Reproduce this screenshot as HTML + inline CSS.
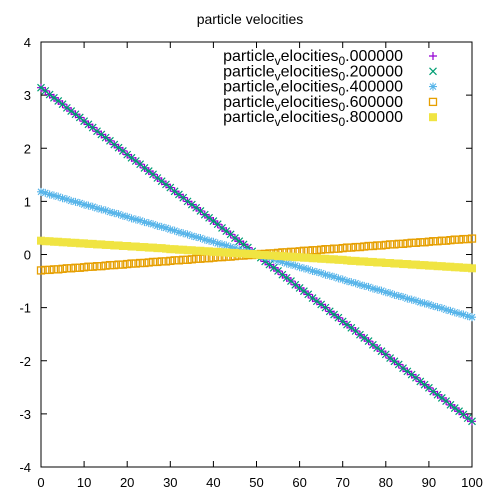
<!DOCTYPE html>
<html><head><meta charset="utf-8"><style>
body{margin:0;background:#fff}
svg{display:block;font-family:"Liberation Sans",sans-serif}
</style></head><body>
<svg id="chart" width="500" height="500" viewBox="0 0 500 500" xmlns="http://www.w3.org/2000/svg">
<rect width="500" height="500" fill="#fff"/>
<text x="250" y="24" text-anchor="middle" font-size="14">particle velocities</text>
<g id="axes"></g>
<g id="marks"></g>
<g id="legend"></g>
</svg>
<script>
const xTicks=[0,10,20,30,40,50,60,70,80,90,100];
const yTicks=[-4,-3,-2,-1,0,1,2,3,4];
const seriesLabels=["0.000000","0.200000","0.400000","0.600000","0.800000"];
const velA=[3.14,3.08,3.01,2.95,2.89,2.83,2.76,2.70,2.64,2.58,2.51,2.45,2.39,2.32,2.26,2.20,2.14,2.07,2.01,1.95,1.88,1.82,1.76,1.70,1.63,1.57,1.51,1.44,1.38,1.32,1.26,1.19,1.13,1.07,1.00,0.94,0.88,0.82,0.75,0.69,0.63,0.57,0.50,0.44,0.38,0.31,0.25,0.19,0.13,0.06,0,-0.06,-0.13,-0.19,-0.25,-0.31,-0.38,-0.44,-0.50,-0.57,-0.63,-0.69,-0.75,-0.82,-0.88,-0.94,-1.00,-1.07,-1.13,-1.19,-1.26,-1.32,-1.38,-1.44,-1.51,-1.57,-1.63,-1.70,-1.76,-1.82,-1.88,-1.95,-2.01,-2.07,-2.14,-2.20,-2.26,-2.32,-2.39,-2.45,-2.51,-2.58,-2.64,-2.70,-2.76,-2.83,-2.89,-2.95,-3.01,-3.08,-3.14];
const velB=[3.14,3.08,3.01,2.95,2.89,2.83,2.76,2.70,2.64,2.58,2.51,2.45,2.39,2.32,2.26,2.20,2.14,2.07,2.01,1.95,1.88,1.82,1.76,1.70,1.63,1.57,1.51,1.44,1.38,1.32,1.26,1.19,1.13,1.07,1.00,0.94,0.88,0.82,0.75,0.69,0.63,0.57,0.50,0.44,0.38,0.31,0.25,0.19,0.13,0.06,0,-0.06,-0.13,-0.19,-0.25,-0.31,-0.38,-0.44,-0.50,-0.57,-0.63,-0.69,-0.75,-0.82,-0.88,-0.94,-1.00,-1.07,-1.13,-1.19,-1.26,-1.32,-1.38,-1.44,-1.51,-1.57,-1.63,-1.70,-1.76,-1.82,-1.88,-1.95,-2.01,-2.07,-2.14,-2.20,-2.26,-2.32,-2.39,-2.45,-2.51,-2.58,-2.64,-2.70,-2.76,-2.83,-2.89,-2.95,-3.01,-3.08,-3.14];
const velC=[1.18,1.16,1.13,1.11,1.09,1.06,1.04,1.01,0.99,0.97,0.94,0.92,0.90,0.87,0.85,0.83,0.80,0.78,0.76,0.73,0.71,0.68,0.66,0.64,0.61,0.59,0.57,0.54,0.52,0.50,0.47,0.45,0.42,0.40,0.38,0.35,0.33,0.31,0.28,0.26,0.24,0.21,0.19,0.17,0.14,0.12,0.09,0.07,0.05,0.02,0,-0.02,-0.05,-0.07,-0.09,-0.12,-0.14,-0.17,-0.19,-0.21,-0.24,-0.26,-0.28,-0.31,-0.33,-0.35,-0.38,-0.40,-0.42,-0.45,-0.47,-0.50,-0.52,-0.54,-0.57,-0.59,-0.61,-0.64,-0.66,-0.68,-0.71,-0.73,-0.76,-0.78,-0.80,-0.83,-0.85,-0.87,-0.90,-0.92,-0.94,-0.97,-0.99,-1.01,-1.04,-1.06,-1.09,-1.11,-1.13,-1.16,-1.18];
const velD=[-0.30,-0.29,-0.29,-0.28,-0.28,-0.27,-0.26,-0.26,-0.25,-0.25,-0.24,-0.23,-0.23,-0.22,-0.22,-0.21,-0.20,-0.20,-0.19,-0.19,-0.18,-0.17,-0.17,-0.16,-0.16,-0.15,-0.14,-0.14,-0.13,-0.13,-0.12,-0.11,-0.11,-0.10,-0.10,-0.09,-0.08,-0.08,-0.07,-0.07,-0.06,-0.05,-0.05,-0.04,-0.04,-0.03,-0.02,-0.02,-0.01,-0.01,0,0.01,0.01,0.02,0.02,0.03,0.04,0.04,0.05,0.05,0.06,0.07,0.07,0.08,0.08,0.09,0.10,0.10,0.11,0.11,0.12,0.13,0.13,0.14,0.14,0.15,0.16,0.16,0.17,0.17,0.18,0.19,0.19,0.20,0.20,0.21,0.22,0.22,0.23,0.23,0.24,0.25,0.25,0.26,0.26,0.27,0.28,0.28,0.29,0.29,0.30];
const velE=[0.26,0.25,0.25,0.24,0.24,0.23,0.23,0.22,0.22,0.21,0.21,0.20,0.20,0.19,0.19,0.18,0.18,0.17,0.17,0.16,0.16,0.15,0.15,0.14,0.14,0.13,0.13,0.12,0.12,0.11,0.10,0.10,0.09,0.09,0.08,0.08,0.07,0.07,0.06,0.06,0.05,0.05,0.04,0.04,0.03,0.03,0.02,0.02,0.01,0.01,0,-0.01,-0.01,-0.02,-0.02,-0.03,-0.03,-0.04,-0.04,-0.05,-0.05,-0.06,-0.06,-0.07,-0.07,-0.08,-0.08,-0.09,-0.09,-0.10,-0.10,-0.11,-0.12,-0.12,-0.13,-0.13,-0.14,-0.14,-0.15,-0.15,-0.16,-0.16,-0.17,-0.17,-0.18,-0.18,-0.19,-0.19,-0.20,-0.20,-0.21,-0.21,-0.22,-0.22,-0.23,-0.23,-0.24,-0.24,-0.25,-0.25,-0.26];

const L=41,R=472,T=42,B=467;
const xMin=0,xMax=100,yMin=-4,yMax=4;
const sx=v=>L+(v-xMin)/(xMax-xMin)*(R-L);
const sy=v=>B-(v-yMin)/(yMax-yMin)*(B-T);
const NS="http://www.w3.org/2000/svg";
function mk(tag,attrs,parent){const e=document.createElementNS(NS,tag);for(const k in attrs)e.setAttribute(k,attrs[k]);parent.appendChild(e);return e;}
const axes=document.getElementById('axes'),marks=document.getElementById('marks'),leg=document.getElementById('legend');

const frame=mk('rect',{x:L,y:T,width:R-L,height:B-T,fill:'none',stroke:'#000','stroke-width':1},axes);


xTicks.forEach(t=>{
  const x=sx(t);
  mk('path',{d:`M${x} ${B}v-6M${x} ${T}v6`,stroke:'#000'},axes);
  const tx=mk('text',{x:x,y:B+20,'text-anchor':'middle','font-size':13},axes);
  tx.textContent=t;
  
  
});
yTicks.forEach(t=>{
  const y=sy(t);
  mk('path',{d:`M${L} ${y}h6M${R} ${y}h-6`,stroke:'#000'},axes);
  const tx=mk('text',{x:L-10,y:y+5,'text-anchor':'end','font-size':13},axes);
  tx.textContent=t;
  
  
});

const colors=['#9400d3','#009e73','#56b4e9','#e69f00','#f0e442'];
function marker(type,x,y,c,parent){
  if(type===0) return mk('path',{d:`M${x-4} ${y}h8M${x} ${y-4}v8`,stroke:c,'stroke-width':1.2,fill:'none'},parent);
  if(type===1) return mk('path',{d:`M${x-3.5} ${y-3.5}l7 7M${x-3.5} ${y+3.5}l7 -7`,stroke:c,'stroke-width':1.2,fill:'none'},parent);
  if(type===2) return mk('path',{d:`M${x-4} ${y}h8M${x} ${y-4}v8M${x-3} ${y-3}l6 6M${x-3} ${y+3}l6 -6`,stroke:c,'stroke-width':1.1,fill:'none'},parent);
  if(type===3) return mk('rect',{x:x-3.5,y:y-3.5,width:7,height:7,stroke:c,'stroke-width':1.3,fill:'none'},parent);
  return mk('rect',{x:x-4,y:y-4,width:8,height:8,fill:c},parent);
}
const allSeries=[velA,velB,velC,velD,velE];
const names=['series-0-000','series-0-200','series-0-400','series-0-600','series-0-800'];
allSeries.forEach((vals,s)=>{
  const g=mk('g',{},marks);
  
  
  vals.forEach((v,i)=>{
    const m=marker(s,sx(i*(xMax-xMin)/(vals.length-1)),sy(v),colors[s],g);
    
    
  });
});
seriesLabels.forEach((lab,s)=>{
  const y=61+s*15.3;
  const t=mk('text',{x:403,y:y,'text-anchor':'end','font-size':16},leg);
  
  
  t.innerHTML=`particle<tspan dy="4" font-size="12">v</tspan><tspan dy="-4">elocities</tspan><tspan dy="4" font-size="12">0</tspan><tspan dy="-4">${lab.slice(1)}</tspan>`;
  const m=marker(s,433,y-5,colors[s],leg);
  
  
});
</script>
</body></html>
